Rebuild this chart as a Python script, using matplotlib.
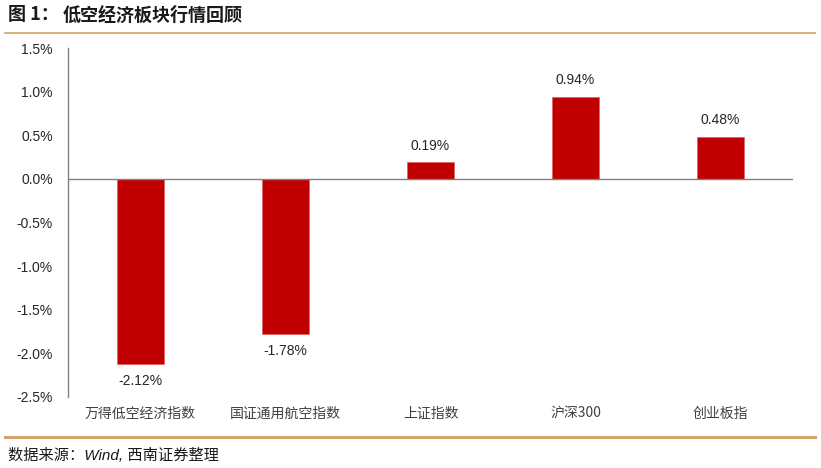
import matplotlib
matplotlib.use("Agg")
import matplotlib.pyplot as plt
from matplotlib.ticker import FuncFormatter, MultipleLocator
from matplotlib.lines import Line2D

categories = ["万得低空经济指数", "国证通用航空指数", "上证指数", "沪深300", "创业板指"]
values = [-2.12, -1.78, 0.19, 0.94, 0.48]
labels = ["-2.12%", "-1.78%", "0.19%", "0.94%", "0.48%"]

title_prefix = "图 1："
title = "低空经济板块行情回顾"
source = "数据来源：Wind, 西南证券整理"

CJK = ["Noto Sans CJK SC", "DejaVu Sans"]

W, H = 821, 468
fig = plt.figure(figsize=(W / 100, H / 100), dpi=100)
ax = fig.add_axes([68 / W, 1 - 397 / H, (793 - 68) / W, (397 - 48) / H])

x = list(range(len(categories)))
ax.bar(x, values, width=0.32, color="#C00000", edgecolor="#E06060", linewidth=0.5, zorder=2)
ax.set_xlim(-0.5, len(categories) - 0.5)
ax.set_ylim(-2.5, 1.5)
ax.yaxis.set_major_locator(MultipleLocator(0.5))
ax.yaxis.set_major_formatter(FuncFormatter(lambda v, p: f"{v:.1f}%"))
ax.axhline(0, color="#808080", linewidth=1.0, zorder=3)

for s in ["top", "right", "bottom"]:
    ax.spines[s].set_visible(False)
ax.spines["left"].set_color("#808080")
ax.spines["left"].set_linewidth(1.0)
ax.tick_params(axis="y", length=0, pad=11, labelsize=10, labelcolor="#262626")
ax.set_xticks([])
for lbl in ax.get_yticklabels():
    lbl.set_fontfamily("Liberation Sans")

for xi, c in zip(x, categories):
    ax.annotate(c, xy=(xi, -2.5), xytext=(0, -7), textcoords="offset points",
                ha="center", va="top", fontsize=10, color="#404040", family=CJK)

for xi, v, t in zip(x, values, labels):
    if v >= 0:
        ax.annotate(t, xy=(xi, v), xytext=(0, 7), textcoords="offset points",
                    ha="center", va="bottom", fontsize=10, color="#262626",
                    family="Liberation Sans")
    else:
        ax.annotate(t, xy=(xi, v), xytext=(0, -7), textcoords="offset points",
                    ha="center", va="top", fontsize=10, color="#262626",
                    family="Liberation Sans")

fig.text(8 / W, 1 - 15 / H, title_prefix, ha="left", va="center", fontsize=13,
         fontweight="bold", color="#1a1a1a", family=CJK)
fig.text(63 / W, 1 - 15 / H, title, ha="left", va="center", fontsize=13,
         fontweight="bold", color="#1a1a1a", family=CJK)
fig.add_artist(Line2D([5 / W, 815 / W], [1 - 33 / H, 1 - 33 / H], color="#D4A26A", linewidth=1.2))
fig.add_artist(Line2D([5 / W, 815 / W], [1 - 437 / H, 1 - 437 / H], color="#D4A26A", linewidth=2.2))
fig.text(8 / W, 1 - 455 / H, source, ha="left", va="center", fontsize=11, style="italic",
         color="#1a1a1a", family=["Liberation Sans", "Noto Sans CJK SC"])

fig.savefig("out.png", dpi=100)
